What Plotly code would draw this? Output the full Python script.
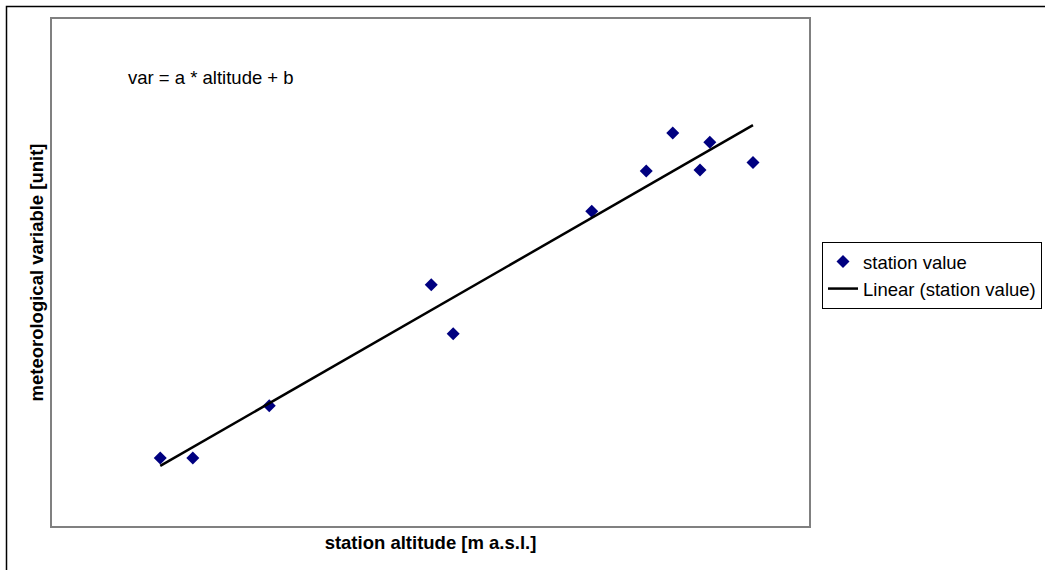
import numpy as np
import plotly.graph_objects as go

# Data (arbitrary units, axes are unlabeled)
altitude = [143, 186, 287, 501, 530, 713, 785, 820, 856, 869, 926]
station_value = [13.4, 13.4, 23.7, 47.6, 37.9, 62.1, 70.0, 77.5, 70.2, 75.7, 71.7]

x_title = "station altitude [m a.s.l.]"
y_title = "meteorological variable [unit]"
equation_text = "var = a * altitude + b"

# Linear trendline (least squares), as in the spreadsheet "Linear" trendline
a, b = np.polyfit(altitude, station_value, 1)
trend_x = [min(altitude), max(altitude)]
trend_y = [a * v + b for v in trend_x]

W, H = 1045, 570
L, R, T, B = 52, 809, 19, 526
FS = 18.5
FONT = "Liberation Sans, Arial, sans-serif"

fig = go.Figure()
fig.add_trace(go.Scatter(
    x=altitude, y=station_value, mode="markers", name="station value",
    marker=dict(symbol="diamond", size=10, color="#000080"),
))
fig.add_trace(go.Scatter(
    x=trend_x, y=trend_y, mode="lines", name="Linear (station value)",
    line=dict(color="black", width=2.5),
))

pw, ph = R - L, B - T
def px(xp):
    return (xp - L) / pw
def py(yp):
    return (B - yp) / ph

fig.update_layout(
    width=W, height=H,
    margin=dict(l=L, r=W - R, t=T, b=H - B, pad=0, autoexpand=False),
    paper_bgcolor="white", plot_bgcolor="white",
    font=dict(family=FONT, size=FS, color="black"),
    showlegend=True,
    legend=dict(
        x=px(822), y=py(242), xanchor="left", yanchor="top",
        bordercolor="black", borderwidth=1, bgcolor="white",
        font=dict(size=FS, family=FONT, color="black"),
        itemwidth=30, tracegroupgap=0,
    ),
    xaxis=dict(
        range=[0, 1000], showticklabels=False, ticks="", showgrid=False, zeroline=False,
        showline=True, linecolor="#808080", linewidth=2, mirror=True,
        title=dict(text="<b>" + x_title + "</b>", font=dict(size=FS), standoff=9),
    ),
    yaxis=dict(
        range=[0, 100], showticklabels=False, ticks="", showgrid=False, zeroline=False,
        showline=True, linecolor="#808080", linewidth=2, mirror=True,
        title=dict(text="<b>" + y_title + "</b>", font=dict(size=FS), standoff=2),
    ),
    annotations=[dict(
        text=equation_text, xref="paper", yref="paper",
        x=px(126), y=py(77), xanchor="left", yanchor="middle",
        showarrow=False, font=dict(size=FS, color="black"),
    )],
    shapes=[dict(
        type="rect", xref="paper", yref="paper",
        x0=px(6.5), x1=px(W + 20), y0=py(H + 20), y1=py(6.5),
        line=dict(color="black", width=1.5), fillcolor="rgba(0,0,0,0)", layer="above",
    )],
)

fig.write_html("out.html")
